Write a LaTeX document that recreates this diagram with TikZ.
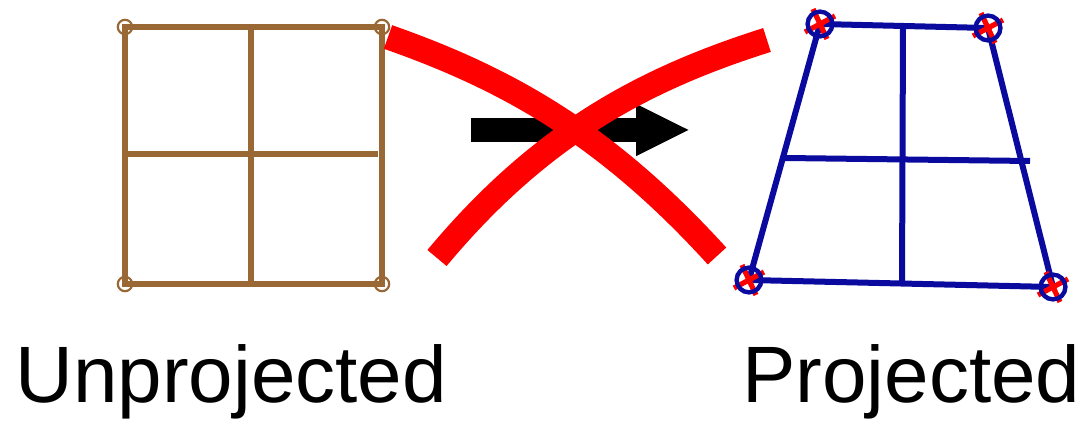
\documentclass[tikz,border=0pt]{standalone}
\usepackage{fontspec}
\setmainfont{Liberation Sans}
\usetikzlibrary{arrows.meta}
\definecolor{gridbrown}{HTML}{9A6834}
\definecolor{gridblue}{HTML}{0A0A9E}
\definecolor{crossred}{HTML}{FF0000}

\begin{document}
\begin{tikzpicture}[x=0.5pt, y=-0.5pt,
    flatgrid/.style={draw=gridbrown, line width=2.8pt},
    projgrid/.style={draw=gridblue, line width=3pt},
    flatcorner/.style={draw=gridbrown, line width=1.1pt},
    projcorner/.style={draw=gridblue, line width=2.2pt},
    hitmark/.style={draw=crossred, line width=2.6pt},
    bigarrow/.style={-{Triangle[length=27pt, width=24pt]}, line width=12pt, color=black},
    strike/.style={draw=crossred, line width=12.5pt},
    heading/.style={anchor=base west, inner sep=0pt, font=\fontsize{40}{44}\selectfont}
]
\useasboundingbox (0,0) rectangle (1086,427);

% unprojected grid
\coordinate (a1) at (125,27);
\coordinate (a2) at (382,27);
\coordinate (a3) at (382,284);
\coordinate (a4) at (125,284);
\draw[flatgrid] (a1) -- (a2) -- (a3) -- (a4) -- cycle;
\draw[flatgrid] (251,27) -- (251,284);
\draw[flatgrid] (125,154) -- (378,154);
\foreach \c in {a1,a2,a3,a4}
    \draw[flatcorner] (\c) circle[radius=3.6pt];

% projected grid
\coordinate (b1) at (820,24);
\coordinate (b2) at (988,28);
\coordinate (b3) at (1053,287);
\coordinate (b4) at (749,280);
\draw[projgrid] (b1) -- (b2) -- (b3) -- (b4) -- cycle;
\draw[projgrid] (903,26) -- (902,284);
\draw[projgrid] (785,158) -- (1030,161);
\foreach \c in {b1,b2,b3,b4} {
    \draw[hitmark] (\c) ++(-7,-15) -- ++(14,30);
    \draw[hitmark] (\c) ++(15,-8) -- ++(-30,16);
    \draw[projcorner] (\c) circle[radius=6.2pt];
}

% arrow, crossed out
\coordinate (tail) at (471,130);
\coordinate (head) at (690,130);
\draw[bigarrow] (tail) -- (head);

\coordinate (s1) at (388,37);
\coordinate (e1) at (717,256);
\coordinate (s2) at (437,258);
\coordinate (e2) at (767,40);
\draw[strike] (s1) .. controls (508,79) and (607,135) .. (e1);
\draw[strike] (s2) .. controls (542,132) and (647,78) .. (e2);

\node[heading] (unproj) at (15,402) {Unprojected};
\node[heading] (proj) at (742,402) {Projected};
\end{tikzpicture}
\end{document}
